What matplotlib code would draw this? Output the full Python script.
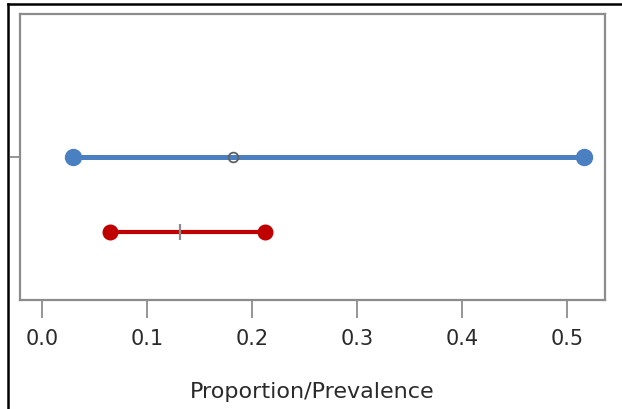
import numpy as np
import matplotlib
matplotlib.use("Agg")
import matplotlib.pyplot as plt
from matplotlib.lines import Line2D

# interval plot: lower / point / upper estimate per group
groups = ["A", "B"]
lower = [0.029, 0.065]
point = [0.182, 0.131]
upper = [0.516, 0.212]
colors = ["#4a7fc1", "#c00000"]
y_pos = [1.0, 0.5]
x_ticks = [0.0, 0.1, 0.2, 0.3, 0.4, 0.5]

fig = plt.figure(figsize=(6.22, 4.10), dpi=100)
ax = fig.add_axes([20 / 622, 109 / 410, 585 / 622, 286 / 410])

frame_col = "#8c8c8c"
for i in range(len(groups)):
    lw = 3.6 if i == 0 else 3.0
    ms = 11.5 if i == 0 else 10.5
    ax.plot([lower[i], upper[i]], [y_pos[i], y_pos[i]], color=colors[i], lw=lw,
            marker="o", markersize=ms, solid_capstyle="butt", zorder=2)
    if i == 0:
        ax.plot(point[i], y_pos[i], marker="o", markersize=7, markerfacecolor="none",
                markeredgecolor="#606060", markeredgewidth=1.3, zorder=3)
    else:
        ax.plot(point[i], y_pos[i], marker="|", markersize=11, markeredgecolor="#8a8a8a",
                markeredgewidth=1.6, zorder=3)

ax.set_xlim(-0.021, 0.536)
ax.set_ylim(0.045, 1.955)
ax.set_xticks(x_ticks)
ax.set_xticklabels([f"{t:.1f}" for t in x_ticks])
ax.set_yticks([y_pos[0]])
ax.set_yticklabels([""])
ax.tick_params(axis="x", length=13, width=1.3, color=frame_col, pad=7,
               labelsize=15, labelcolor="#2a2a2a")
ax.tick_params(axis="y", length=7, width=1.3, color=frame_col)
for sp in ax.spines.values():
    sp.set_color(frame_col)
    sp.set_linewidth(1.6)
ax.set_xlabel("Proportion/Prevalence", fontsize=16, color="#2a2a2a", labelpad=24)

# outer screenshot border (top and left)
fig.add_artist(Line2D([8 / 622, 1.0], [1 - 5 / 410, 1 - 5 / 410], color="black", lw=1.8))
fig.add_artist(Line2D([8 / 622, 8 / 622], [0.0, 1 - 5 / 410], color="black", lw=1.8))

fig.savefig("out.png", dpi=100)
